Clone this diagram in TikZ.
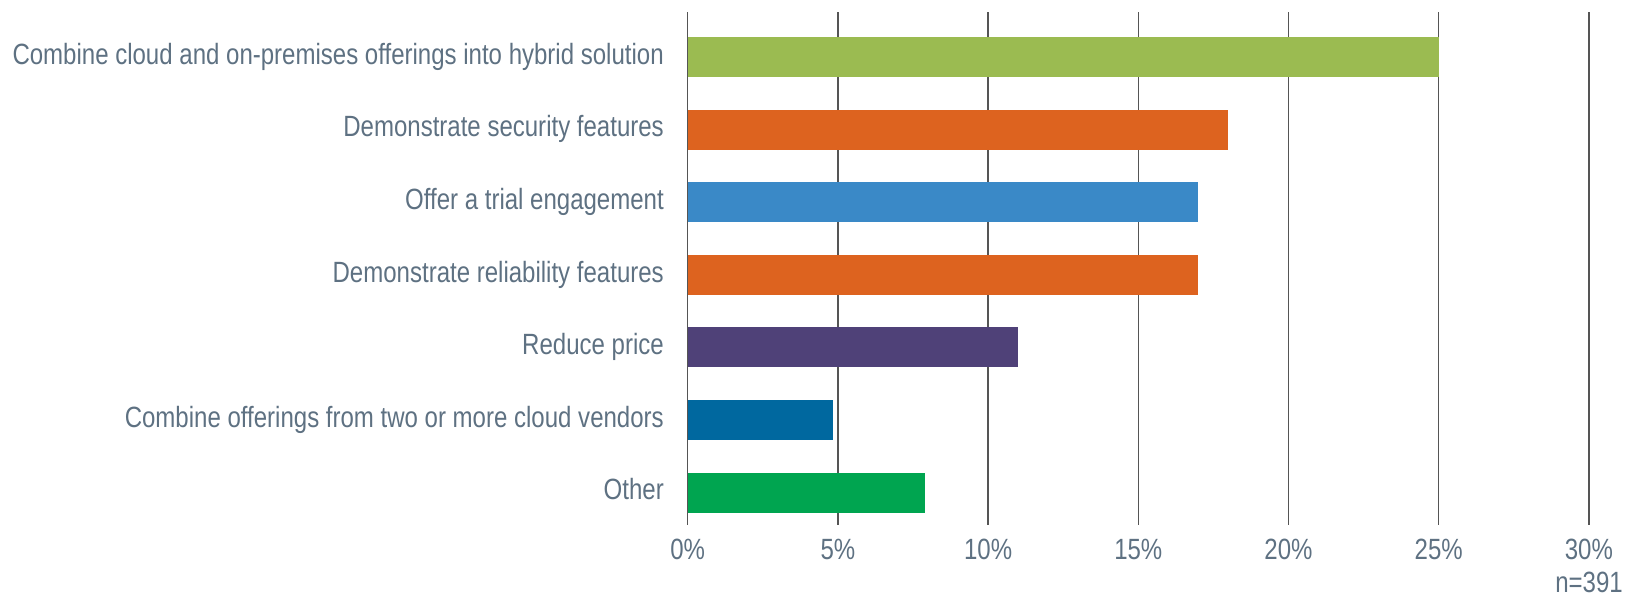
\documentclass[tikz,border=0pt]{standalone}
\usepackage{fontspec}
\newfontfamily\condfont[FakeStretch=0.82]{Liberation Sans}
\definecolor{labelcol}{RGB}{94,113,130}
\definecolor{gridcol}{RGB}{85,85,85}
\definecolor{cGreen}{RGB}{155,187,81}
\definecolor{cOrange}{RGB}{221,99,31}
\definecolor{cBlue}{RGB}{58,137,199}
\definecolor{cPurple}{RGB}{79,65,120}
\definecolor{cDarkBlue}{RGB}{0,104,159}
\definecolor{cBrightGreen}{RGB}{0,165,80}
\tikzset{
  catlabel/.style={anchor=base east, inner sep=0pt, text=labelcol, font=\condfont\fontsize{29.3}{32}\selectfont},
  ticklabel/.style={anchor=base, inner sep=0pt, text=labelcol, font=\condfont\fontsize{29.3}{32}\selectfont},
  gridline/.style={draw=gridcol, line width=1.5pt},
}
\begin{document}
\begin{tikzpicture}[x=1pt,y=-1pt]
\useasboundingbox (0,0) rectangle (1625,598);
% grid lines
\foreach \k in {0,...,6} {
  \draw[gridline] ({687.7+150.2*\k},12) -- ({687.7+150.2*\k},525);
  \pgfmathtruncatemacro{\pc}{5*\k}
  \node[ticklabel] (tick\k) at ({687.7+150.2*\k},559) {\pc\%};
}
% bars
\foreach \i/\v/\c/\t in {
  0/25/cGreen/{Combine cloud and on-premises offerings into hybrid solution},
  1/18/cOrange/{Demonstrate security features},
  2/17/cBlue/{Offer a trial engagement},
  3/17/cOrange/{Demonstrate reliability features},
  4/11/cPurple/{Reduce price},
  5/4.85/cDarkBlue/{Combine offerings from two or more cloud vendors},
  6/7.9/cBrightGreen/{Other}} {
  \fill[\c] (687.7,{37+72.6*\i}) rectangle ({687.7+30.04*\v},{77+72.6*\i});
  \node[catlabel] (lab\i) at (664,{64.3+72.6*\i}) {\t};
}
\node[catlabel] (n) at (1623,592) {n=391};
\end{tikzpicture}
\end{document}
